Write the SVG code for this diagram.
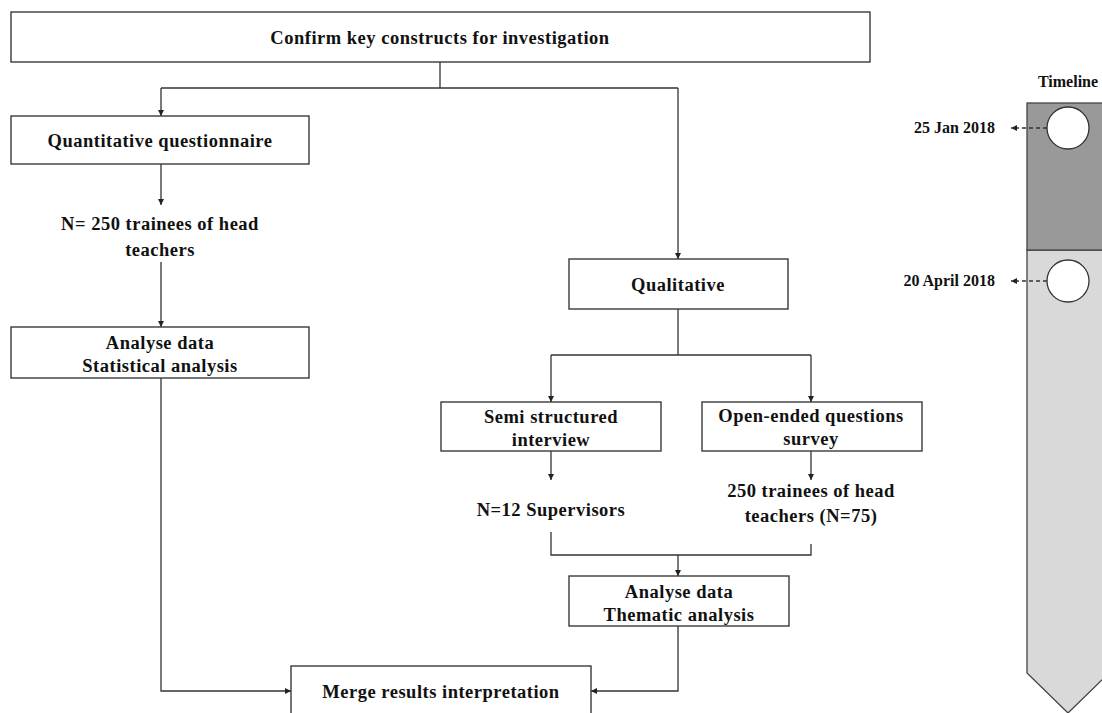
<svg xmlns="http://www.w3.org/2000/svg" width="1102" height="713" viewBox="0 0 1102 713">
  <defs>
    <style>
      .box { fill: #ffffff; stroke: #3a3a3a; stroke-width: 1.4; }
      .lbl { font-family: "Liberation Serif", "Times New Roman", serif; font-weight: bold; font-size: 18.5px; letter-spacing: 0.5px; fill: #111111; text-anchor: middle; }
      .tl { font-family: "Liberation Serif", "Times New Roman", serif; font-weight: bold; font-size: 16px; fill: #111111; }
      .wire { fill: none; stroke: #333333; stroke-width: 1.3; }
      .dash { fill: none; stroke: #333333; stroke-width: 1.3; stroke-dasharray: 4 3; }
      .dot { fill: #ffffff; stroke: #333333; stroke-width: 1.3; }
    </style>
    <marker id="arrow" viewBox="0 0 8 8" refX="8" refY="4" markerWidth="6" markerHeight="6" markerUnits="userSpaceOnUse" orient="auto">
      <path d="M0,0 L8,4 L0,8 Z" fill="#222222"/>
    </marker>
  </defs>

  <rect width="1102" height="713" fill="#ffffff"/>

  <!-- connectors -->
  <g id="connectors">
    <path class="wire" d="M440,62 V88"/>
    <path class="wire" d="M161,88 H678"/>
    <path class="wire" d="M161,88 V116" marker-end="url(#arrow)"/>
    <path class="wire" d="M678,88 V259" marker-end="url(#arrow)"/>
    <path class="wire" d="M161,164 V205" marker-end="url(#arrow)"/>
    <path class="wire" d="M161,262 V327" marker-end="url(#arrow)"/>
    <path class="wire" d="M161,378 V691 H291" marker-end="url(#arrow)"/>
    <path class="wire" d="M678,309 V355"/>
    <path class="wire" d="M551,355 H811"/>
    <path class="wire" d="M551,355 V402" marker-end="url(#arrow)"/>
    <path class="wire" d="M811,355 V402" marker-end="url(#arrow)"/>
    <path class="wire" d="M551,451 V480" marker-end="url(#arrow)"/>
    <path class="wire" d="M811,451 V480" marker-end="url(#arrow)"/>
    <path class="wire" d="M551,532 V555 H811 V544"/>
    <path class="wire" d="M678,555 V576" marker-end="url(#arrow)"/>
    <path class="wire" d="M678,626 V691 H591" marker-end="url(#arrow)"/>
  </g>

  <!-- flow nodes -->
  <g id="confirm">
    <rect class="box" x="11" y="12" width="859" height="50"/>
    <text class="lbl" x="440" y="44">Confirm key constructs for investigation</text>
  </g>
  <g id="quantitative">
    <rect class="box" x="11" y="116" width="298" height="48"/>
    <text class="lbl" x="160" y="147">Quantitative questionnaire</text>
  </g>
  <g id="quant-sample">
    <text class="lbl" x="160" y="230">N= 250 trainees of head</text>
    <text class="lbl" x="160" y="256">teachers</text>
  </g>
  <g id="statistical">
    <rect class="box" x="11" y="327" width="298" height="51"/>
    <text class="lbl" x="160" y="349">Analyse data</text>
    <text class="lbl" x="160" y="372">Statistical analysis</text>
  </g>
  <g id="qualitative">
    <rect class="box" x="569" y="259" width="219" height="50"/>
    <text class="lbl" x="678" y="291">Qualitative</text>
  </g>
  <g id="interview">
    <rect class="box" x="441" y="402" width="220" height="49"/>
    <text class="lbl" x="551" y="423">Semi structured</text>
    <text class="lbl" x="551" y="446">interview</text>
  </g>
  <g id="survey">
    <rect class="box" x="702" y="402" width="220" height="49"/>
    <text class="lbl" x="811" y="422">Open-ended questions</text>
    <text class="lbl" x="811" y="445">survey</text>
  </g>
  <g id="interview-sample">
    <text class="lbl" x="551" y="516">N=12 Supervisors</text>
  </g>
  <g id="survey-sample">
    <text class="lbl" x="811" y="497">250 trainees of head</text>
    <text class="lbl" x="811" y="522">teachers (N=75)</text>
  </g>
  <g id="thematic">
    <rect class="box" x="569" y="576" width="220" height="50"/>
    <text class="lbl" x="679" y="598">Analyse data</text>
    <text class="lbl" x="679" y="621">Thematic analysis</text>
  </g>
  <g id="merge">
    <rect class="box" x="291" y="666" width="300" height="60"/>
    <text class="lbl" x="441" y="698">Merge results interpretation</text>
  </g>

  <!-- timeline bar -->
  <g id="timeline">
    <text class="tl" x="1068" y="87" text-anchor="middle">Timeline</text>
    <path d="M1027,250 V673 L1068,713 L1109,673 V250 Z" fill="#d9d9d9" stroke="#444444" stroke-width="1.3"/>
    <rect x="1027" y="103" width="82" height="147" fill="#999999" stroke="#444444" stroke-width="1.3"/>
  </g>
  <g id="milestone-jan">
    <circle class="dot" cx="1068" cy="128" r="21"/>
    <path class="dash" d="M1047,128 H1011" marker-end="url(#arrow)"/>
    <text class="tl" x="995" y="133" text-anchor="end">25 Jan 2018</text>
  </g>
  <g id="milestone-apr">
    <circle class="dot" cx="1068" cy="281" r="21"/>
    <path class="dash" d="M1047,281 H1011" marker-end="url(#arrow)"/>
    <text class="tl" x="995" y="286" text-anchor="end">20 April 2018</text>
  </g>
</svg>
